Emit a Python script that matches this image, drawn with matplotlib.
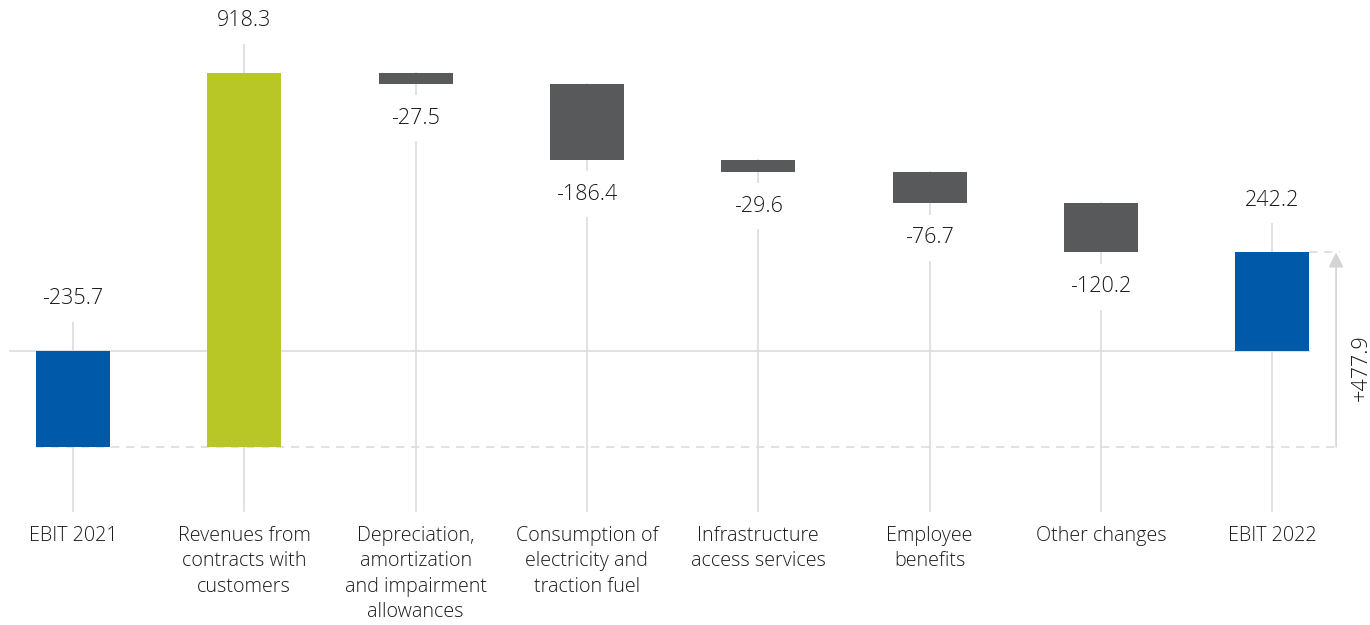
import numpy as np
import matplotlib.pyplot as plt
from matplotlib import font_manager

# EBIT bridge 2021 -> 2022 (EUR m)
categories = ["EBIT 2021", "Revenues from\ncontracts with\ncustomers",
              "Depreciation,\namortization\nand impairment\nallowances",
              "Consumption of\nelectricity and\ntraction fuel",
              "Infrastructure\naccess services", "Employee\nbenefits",
              "Other changes", "EBIT 2022"]
ebit_2021 = -235.7
changes = [918.3, -27.5, -186.4, -29.6, -76.7, -120.2]
ebit_2022 = 242.2

BLUE = "#005aa9"
GREEN = "#b8c726"
GREY = "#58595b"
LIGHT = "#dcdcdc"
TXT = "#1a1a1a"

fam = "Open Sans"
plt.rcParams["font.family"] = [fam, "DejaVu Sans"]

fig = plt.figure(figsize=(13.7, 6.25), dpi=100)
ax = fig.add_axes([0, 0, 1, 1])
ax.set_xlim(-0.426, 7.571)
ax.set_ylim(-673, 862)
ax.axis("off")

n = len(categories)
x = np.arange(n)
w = 0.432

# bar bottoms / tops for the waterfall
bottoms = [min(0, ebit_2021)]
heights = [abs(ebit_2021)]
colors = [BLUE]
values = [ebit_2021]
running = ebit_2021
for c in changes:
    new = running + c
    bottoms.append(min(running, new))
    heights.append(abs(c))
    colors.append(GREEN if c > 0 else GREY)
    values.append(c)
    running = new
bottoms.append(min(0, ebit_2022))
heights.append(abs(ebit_2022))
colors.append(BLUE)
values.append(ebit_2022)

line_bottom = -393
up_off = 128
down_off = 84

# zero line and the dashed reference at EBIT 2021
ax.plot([-0.368, x[-1] + w / 2], [0, 0], color=LIGHT, lw=1.2, zorder=1)
arrow_x = 7.373
ax.plot([x[0] - w / 2, arrow_x], [ebit_2021, ebit_2021], color=LIGHT, lw=1.2,
        ls=(0, (5, 4)), zorder=1)
ax.plot([x[-1] + w / 2, arrow_x + 0.02], [ebit_2022, ebit_2022], color=LIGHT,
        lw=1.2, ls=(0, (5, 4)), zorder=1)

for i in range(n):
    top = bottoms[i] + heights[i]
    is_total = i == 0 or i == n - 1
    if is_total or values[i] > 0:
        ly = top + up_off
        va_top = ly
    else:
        ly = bottoms[i] - down_off
        va_top = top
    ax.plot([x[i], x[i]], [line_bottom, va_top], color=LIGHT, lw=1.2, zorder=1)
    ax.bar(x[i], heights[i], bottom=bottoms[i], width=w, color=colors[i],
           zorder=2)
    ax.text(x[i], ly, f"{values[i]:.1f}", ha="center", va="center",
            fontsize=15.5, color=TXT, fontweight="light", zorder=3,
            bbox=dict(facecolor="white", edgecolor="none", pad=9))
    ax.text(x[i], -430, categories[i], ha="center", va="top", fontsize=14.2,
            color=TXT, fontweight="light", linespacing=1.36, zorder=3)

# total change arrow
delta = ebit_2022 - ebit_2021
ax.annotate("", xy=(arrow_x, ebit_2022), xytext=(arrow_x, ebit_2021),
            arrowprops=dict(arrowstyle="-|>,head_width=0.45,head_length=0.9",
                            color="#d4d4d4", lw=1.2, shrinkA=0, shrinkB=0),
            zorder=2)
ax.text(7.52, (ebit_2021 + ebit_2022) / 2 - 45, f"+{delta:.1f}", rotation=90,
        ha="center", va="center", fontsize=15.5, color=TXT, fontweight="light")

fig.savefig("out.png", dpi=100)
